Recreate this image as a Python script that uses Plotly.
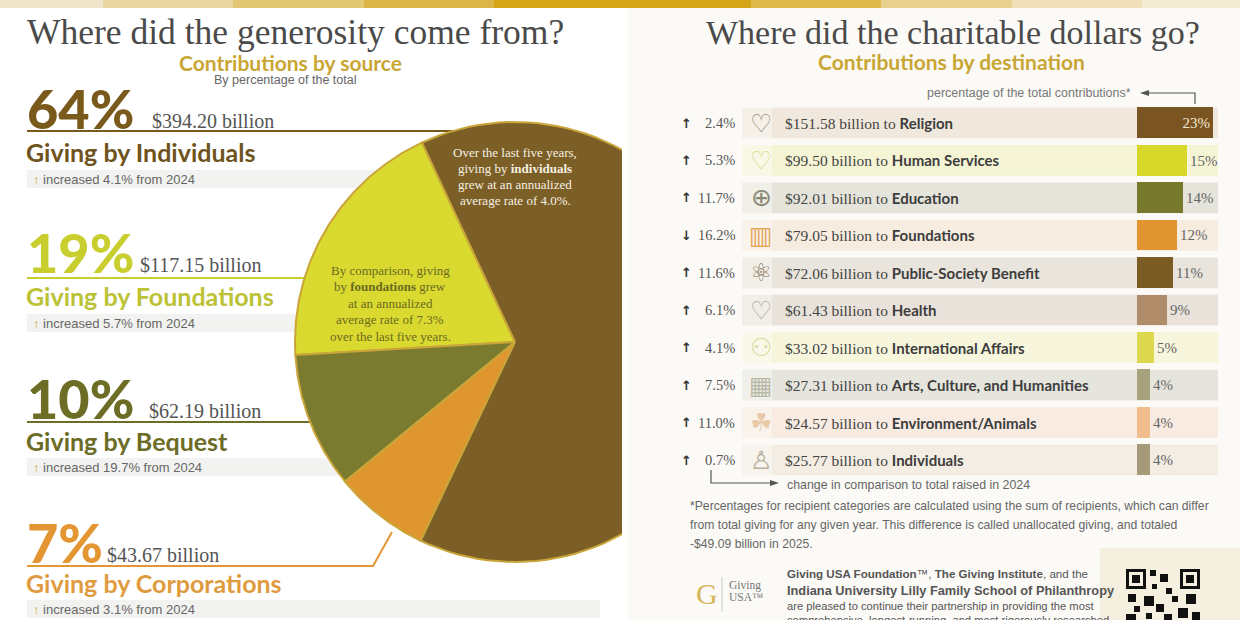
import numpy as np
import plotly.graph_objects as go

W, H = 1240, 620

# contributions by source
src_names = ["Individuals", "Foundations", "Bequest", "Corporations"]
src_pct = [64, 19, 10, 7]
src_billions = [394.20, 117.15, 62.19, 43.67]
src_change = [4.1, 5.7, 19.7, 3.1]
src_colors = ["#7b5f26", "#d9d92f", "#7b7b2f", "#e0962f"]
src_text_colors = ["#6f5420", "#bcc236", "#6c6c26", "#df9c3f"]
src_pct_colors = ["#7a5a1c", "#c8ce2e", "#6e6d25", "#e39632"]

# contributions by destination
dst_names = ["Religion", "Human Services", "Education", "Foundations",
             "Public-Society Benefit", "Health", "International Affairs",
             "Arts, Culture, and Humanities", "Environment/Animals", "Individuals"]
dst_billions = [151.58, 99.50, 92.01, 79.05, 72.06, 61.43, 33.02, 27.31, 24.57, 25.77]
dst_pct = [23, 15, 14, 12, 11, 9, 5, 4, 4, 4]
dst_change = [2.4, 5.3, 11.7, -16.2, 11.6, 6.1, 4.1, 7.5, 11.0, 0.7]
dst_colors = ["#7b5521", "#d8d82a", "#777a2c", "#e09530", "#7b5c24",
              "#b08c6a", "#ddd94e", "#a8a27c", "#f2bd8c", "#a79a7a"]
dst_bands = ["#f0e8dc", "#f5f5d6", "#e5e4da", "#f7ece0", "#e9e4dc",
             "#e8e2da", "#f7f6dc", "#e6e5dd", "#f8ebe1", "#f3ede3"]
dst_icons = ["♡", "♡", "⊕", "▥", "⚛", "♡", "⚇", "▦", "☘", "♙"]
dst_icon_colors = ["#9a8f7c", "#dada8c", "#8c8a76", "#e3a456", "#8d7c5e",
                   "#b3aa9a", "#dcdca2", "#bab9a8", "#e9c9a8", "#b9b0a0"]

SERIF = "Liberation Serif, serif"
SANS = "Lato, sans-serif"
NARROW = "Liberation Sans, sans-serif"
GOLD = "#c9a634"


def fx(px):
    return px / W


def fy(py):
    return 1 - py / H


fig = go.Figure()
shapes = []
ann = []

# backgrounds
shapes.append(dict(type="rect", xref="paper", yref="paper", x0=fx(628), x1=1, y0=0, y1=fy(8),
                   fillcolor="#fbfaf7", line_width=0, layer="below"))
shapes.append(dict(type="rect", xref="paper", yref="paper", x0=fx(1100), x1=1, y0=0, y1=fy(548),
                   fillcolor="#f4efdf", line_width=0, layer="below"))
strip_edges = [0, 103, 233, 364, 494, 751, 881, 1012, 1142, 1240]
strip_cols = ["#f1e6cc", "#e8d7a3", "#e3c873", "#dbb546", "#d4a617",
              "#dfbb4e", "#e8d08e", "#efe0ba", "#f4ebd5"]
for i, c in enumerate(strip_cols):
    shapes.append(dict(type="rect", xref="paper", yref="paper", x0=fx(strip_edges[i]),
                       x1=fx(strip_edges[i + 1]), y0=fy(8), y1=1, fillcolor=c,
                       line_width=0, layer="below"))

# ---------- left panel ----------
ann.append(dict(x=295, y=32, xref="x", yref="y", text="Where did the generosity come from?",
                font=dict(family=SERIF, size=35.5, color="#4a4a4a")))
ann.append(dict(x=290, y=62, xref="x", yref="y", text="Contributions by source",
                font=dict(family=SANS, size=21, color=GOLD, weight="bold")))
ann.append(dict(x=285, y=80, xref="x", yref="y", text="By percentage of the total",
                font=dict(family=NARROW, size=12.5, color="#666")))

pct_y = [108, 252, 398, 542]
line_y = [131, 278, 422, 566]
name_y = [152, 296, 441, 583]
band_y = [170, 314, 458, 600]
amt_x = [150, 138, 147, 105]
for i in range(4):
    ann.append(dict(x=25, y=pct_y[i], xref="x", yref="y", xanchor="left", text=f"{src_pct[i]}%",
                    font=dict(family=SANS, size=54, color=src_pct_colors[i], weight=900)))
    ann.append(dict(x=amt_x[i], y=pct_y[i] + 13, xref="x", yref="y", xanchor="left",
                    text=f"${src_billions[i]:.2f} billion",
                    font=dict(family=SERIF, size=20, color="#555")))
    ann.append(dict(x=24, y=name_y[i], xref="x", yref="y", xanchor="left",
                    text=f"Giving by {src_names[i]}",
                    font=dict(family=SANS, size=25, color=src_text_colors[i], weight="bold")))
    shapes.append(dict(type="rect", xref="x", yref="y", x0=27, x1=600, y0=band_y[i],
                       y1=band_y[i] + 18, fillcolor="#f2f2f0", line_width=0, layer="below"))
    ann.append(dict(x=31, y=band_y[i] + 9, xref="x", yref="y", xanchor="left",
                    text=f"<span style='color:{GOLD}'>↑</span> increased {src_change[i]}% from 2024",
                    font=dict(family=NARROW, size=13, color="#666")))
    if i < 3:
        shapes.append(dict(type="line", xref="x", yref="y", x0=27, x1=520, y0=line_y[i],
                           y1=line_y[i], line=dict(color=src_pct_colors[i], width=2), layer="below"))
    else:
        shapes.append(dict(type="path", xref="x", yref="y",
                           path=f"M 27,{line_y[i]} L 373,{line_y[i]} L 392,532",
                           line=dict(color=src_pct_colors[i], width=2), layer="below"))

# pie (wedges drawn counter-clockwise from the top, clipped by the panel edge)
cx, cy, r = 515, 342, 220
start = 25.0
angle = start
for i in [1, 2, 3, 0]:
    span = 360.0 * src_pct[i] / sum(src_pct)
    t = np.radians(np.linspace(angle, angle + span, 90))
    xs = np.concatenate([[cx], cx - r * np.sin(t), [cx]])
    ys = np.concatenate([[cy], cy - r * np.cos(t), [cy]])
    fig.add_trace(go.Scatter(x=xs, y=ys, mode="lines", fill="toself", fillcolor=src_colors[i],
                             line=dict(color="#c9a53a", width=2), hoverinfo="skip",
                             xaxis="x", yaxis="y", showlegend=False))
    angle += span

ind_lines = ["Over the last five years,", "giving by <b>individuals</b>",
             "grew at an annualized", "average rate of 4.0%."]
for k, s in enumerate(ind_lines):
    ann.append(dict(x=515, y=152 + 16 * k, xref="x", yref="y", text=s,
                    font=dict(family=SERIF, size=13, color="#f6f0e2")))
fdn_lines = ["By comparison, giving", "by <b>foundations</b> grew", "at an annualized",
             "average rate of 7.3%", "over the last five years."]
for k, s in enumerate(fdn_lines):
    ann.append(dict(x=390, y=270 + 16.5 * k, xref="x", yref="y", text=s,
                    font=dict(family=SERIF, size=13, color="#6b6a22")))

# ---------- right panel ----------
ann.append(dict(x=fx(953), y=fy(32), xref="paper", yref="paper",
                text="Where did the charitable dollars go?",
                font=dict(family=SERIF, size=34, color="#4a4a4a")))
ann.append(dict(x=fx(951), y=fy(62), xref="paper", yref="paper",
                text="Contributions by destination",
                font=dict(family=SANS, size=21, color=GOLD, weight="bold")))
ann.append(dict(x=fx(1133), y=fy(93), xref="paper", yref="paper", xanchor="right",
                text="percentage of the total contributions*",
                font=dict(family=NARROW, size=12.5, color="#777")))
ARROW = dict(color="#555", width=1.2)
shapes.append(dict(type="path", xref="paper", yref="paper",
                   path=f"M {fx(1148)},{fy(93)} L {fx(1195)},{fy(93)} L {fx(1195)},{fy(104)}",
                   line=ARROW))
shapes.append(dict(type="path", xref="paper", yref="paper",
                   path=f"M {fx(1140)},{fy(93)} L {fx(1149)},{fy(90)} L {fx(1149)},{fy(96)} Z",
                   fillcolor="#555", line_width=0))

for i in range(len(dst_names)):
    shapes.append(dict(type="rect", xref="paper", yref="y2", x0=fx(742), x1=fx(772),
                       y0=i - 0.41, y1=i + 0.41, fillcolor=dst_bands[i], opacity=0.5,
                       line_width=0, layer="below"))
    shapes.append(dict(type="rect", xref="paper", yref="y2", x0=fx(772), x1=fx(1218),
                       y0=i - 0.41, y1=i + 0.41, fillcolor=dst_bands[i],
                       line_width=0, layer="below"))
    up = dst_change[i] >= 0
    ann.append(dict(x=fx(686), y=i, xref="paper", yref="y2", text="↑" if up else "↓",
                    font=dict(family="DejaVu Sans", size=13, color="#333", weight="bold")))
    ann.append(dict(x=fx(737), y=i, xref="paper", yref="y2", xanchor="right",
                    text=f"{abs(dst_change[i]):.1f}%",
                    font=dict(family=SERIF, size=14.5, color="#555")))
    ann.append(dict(x=fx(761), y=i, xref="paper", yref="y2", text=dst_icons[i],
                    font=dict(family="DejaVu Sans", size=25, color=dst_icon_colors[i])))
    ann.append(dict(x=fx(783), y=i, xref="paper", yref="y2", xanchor="left",
                    text=f"${dst_billions[i]:.2f} billion to "
                         f"<span style='font-family:Lato;font-weight:bold;font-size:15px;color:#3d3d3d'>"
                         f"{dst_names[i]}</span>",
                    font=dict(family=SERIF, size=15.5, color="#444")))

fig.add_trace(go.Bar(
    x=dst_pct, y=list(range(len(dst_pct))), orientation="h", xaxis="x2", yaxis="y2",
    marker=dict(color=dst_colors, line_width=0), width=0.82,
    text=[f"{p}%" for p in dst_pct],
    textposition=["inside"] + ["outside"] * (len(dst_pct) - 1),
    insidetextanchor="end", textangle=0, constraintext="none", cliponaxis=False,
    insidetextfont=dict(family=SERIF, size=15, color="#f3e9cf"),
    outsidetextfont=dict(family=SERIF, size=15, color="#666"),
    hoverinfo="skip", showlegend=False))

# change legend
shapes.append(dict(type="path", xref="paper", yref="paper",
                   path=f"M {fx(711)},{fy(470)} L {fx(711)},{fy(483)} L {fx(771)},{fy(483)}",
                   line=ARROW))
shapes.append(dict(type="path", xref="paper", yref="paper",
                   path=f"M {fx(779)},{fy(483)} L {fx(770)},{fy(480)} L {fx(770)},{fy(486)} Z",
                   fillcolor="#555", line_width=0))
ann.append(dict(x=fx(785), y=fy(485), xref="paper", yref="paper", xanchor="left",
                text="change in comparison to total raised in 2024",
                font=dict(family=NARROW, size=12.4, color="#666")))

foot = ["*Percentages for recipient categories are calculated using the sum of recipients, which can differ",
        "from total giving for any given year. This difference is called unallocated giving, and totaled",
        "-$49.09 billion in 2025."]
for k, s in enumerate(foot):
    ann.append(dict(x=fx(688), y=fy(506 + 19 * k), xref="paper", yref="paper", xanchor="left",
                    text=s, font=dict(family=NARROW, size=12.2, color="#666")))

# footer logo + partners
ann.append(dict(x=fx(707), y=fy(593), xref="paper", yref="paper", text="G",
                font=dict(family=SERIF, size=30, color="#d6b65c")))
shapes.append(dict(type="line", xref="paper", yref="paper", x0=fx(722), x1=fx(722),
                   y0=fy(577), y1=fy(612), line=dict(color="#ccc", width=1)))
ann.append(dict(x=fx(727), y=fy(585), xref="paper", yref="paper", xanchor="left",
                text="Giving", font=dict(family=SERIF, size=11.5, color="#777")))
ann.append(dict(x=fx(727), y=fy(597), xref="paper", yref="paper", xanchor="left",
                text="USA™", font=dict(family=SERIF, size=11.5, color="#777")))
partner = [("<b>Giving USA Foundation</b>™, <b>The Giving Institute</b>, and the", 11.6, 573),
           ("<b>Indiana University Lilly Family School of Philanthropy</b>", 12.8, 590),
           ("are pleased to continue their partnership in providing the most", 11.2, 606),
           ("comprehensive, longest-running, and most rigorously researched", 11.2, 620)]
for s, sz, yy in partner:
    ann.append(dict(x=fx(785), y=fy(yy), xref="paper", yref="paper", xanchor="left",
                    text=s, font=dict(family=NARROW, size=sz, color="#555")))

# QR code corner (finder squares)
for qx, qy in [(1126, 569), (1180, 569)]:
    shapes.append(dict(type="rect", xref="paper", yref="paper", x0=fx(qx), x1=fx(qx + 20),
                       y0=fy(qy + 20), y1=fy(qy), fillcolor="#111", line_width=0))
    shapes.append(dict(type="rect", xref="paper", yref="paper", x0=fx(qx + 3), x1=fx(qx + 17),
                       y0=fy(qy + 17), y1=fy(qy + 3), fillcolor="#f4efdf", line_width=0))
    shapes.append(dict(type="rect", xref="paper", yref="paper", x0=fx(qx + 6), x1=fx(qx + 14),
                       y0=fy(qy + 14), y1=fy(qy + 6), fillcolor="#111", line_width=0))
for bx, by, bw in [(1150, 570, 6), (1160, 574, 8), (1152, 584, 5), (1166, 588, 6),
                   (1128, 594, 8), (1144, 596, 10), (1172, 596, 6), (1186, 594, 10),
                   (1134, 606, 6), (1156, 604, 8), (1178, 608, 10), (1126, 614, 10),
                   (1146, 613, 6), (1164, 614, 8), (1192, 612, 8)]:
    shapes.append(dict(type="rect", xref="paper", yref="paper", x0=fx(bx), x1=fx(bx + bw),
                       y0=fy(by + bw), y1=fy(by), fillcolor="#111", line_width=0))

for a in ann:
    a.setdefault("showarrow", False)
    a.setdefault("xanchor", "center")
    a.setdefault("yanchor", "middle")

row_top = 123 - 37.44 / 2
row_bot = 460 + 37.44 / 2
fig.update_layout(
    width=W, height=H, margin=dict(l=0, r=0, t=0, b=0),
    paper_bgcolor="#ffffff", plot_bgcolor="rgba(0,0,0,0)", showlegend=False,
    xaxis=dict(domain=[0, 622 / W], range=[0, 622], visible=False, fixedrange=True),
    yaxis=dict(domain=[0, 1], range=[H, 0], visible=False, fixedrange=True),
    xaxis2=dict(domain=[1137 / W, 1], range=[0, 103 / 3.3], visible=False, anchor="y2"),
    yaxis2=dict(domain=[fy(row_bot), fy(row_top)], range=[9.5, -0.5], visible=False, anchor="x2"),
    shapes=shapes, annotations=ann, bargap=0,
)

fig.write_html("out.html", config={"displayModeBar": False},
               post_script="document.body.style.margin='0';")
